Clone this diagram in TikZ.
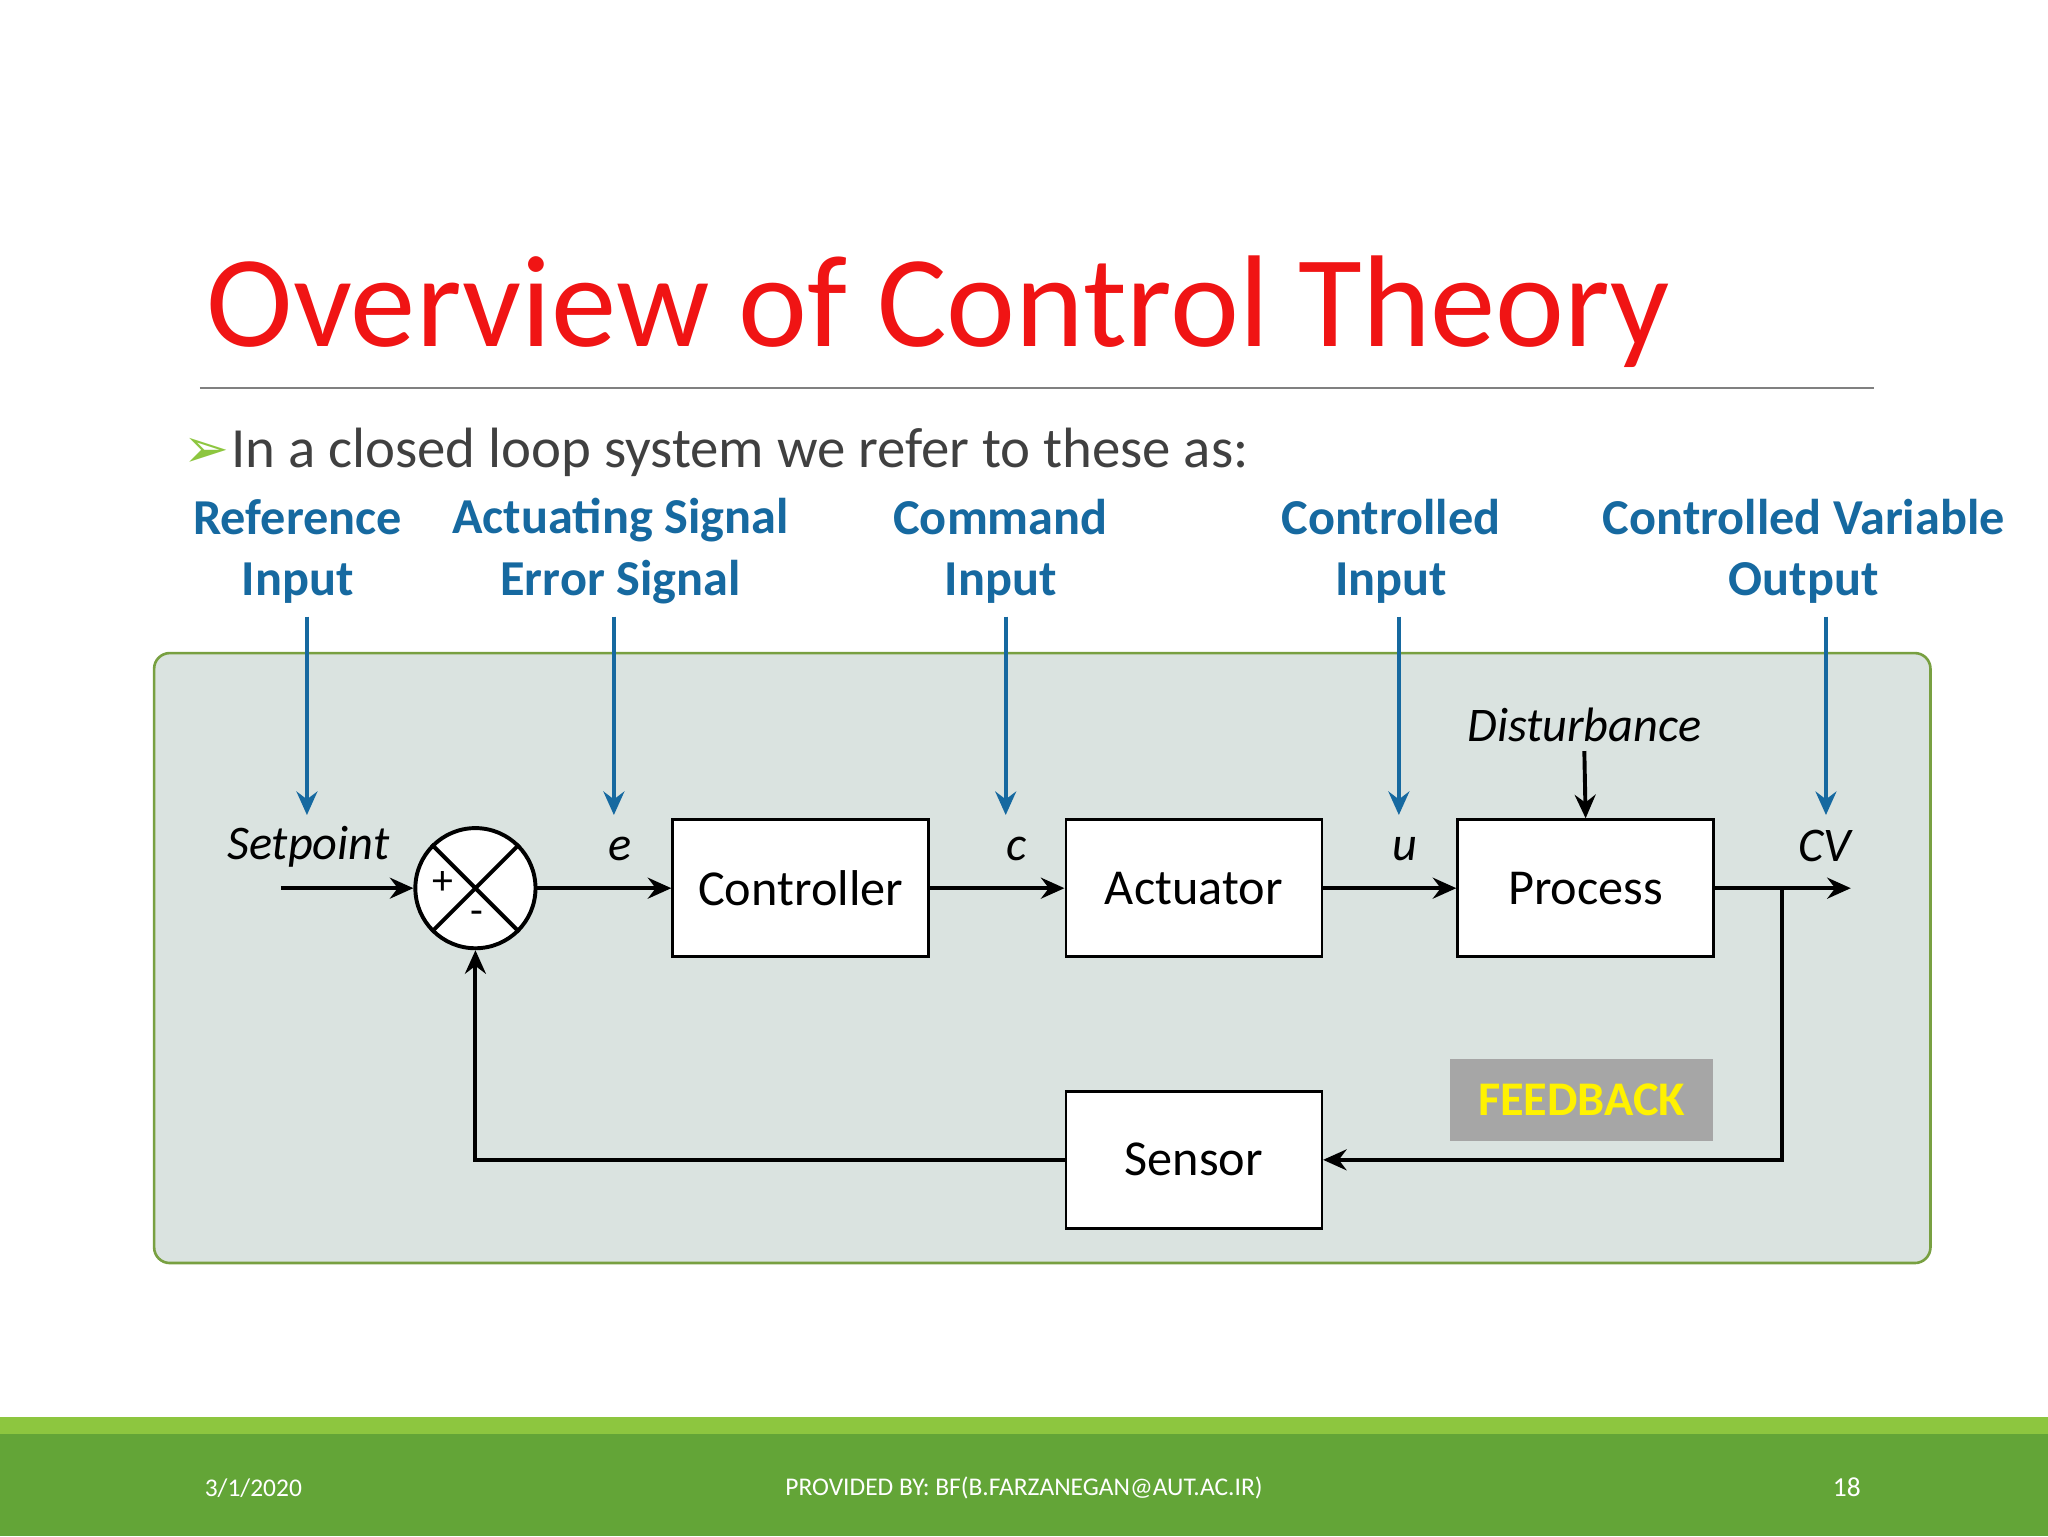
\documentclass[tikz,border=0pt]{standalone}
\usepackage{fontspec}
\setmainfont{Carlito}
\newfontfamily\symfont{DejaVu Sans}
\usetikzlibrary{arrows.meta}
\definecolor{ttlred}{RGB}{240,20,20}
\definecolor{lblue}{RGB}{22,105,160}
\definecolor{panel}{RGB}{218,227,224}
\definecolor{pborder}{RGB}{120,160,65}
\definecolor{gdark}{RGB}{99,165,55}
\definecolor{glight}{RGB}{141,198,63}
\definecolor{fbgray}{RGB}{166,166,166}
\tikzset{
 blk/.style={draw=black,line width=2pt,fill=white,minimum width=196pt,minimum height=105pt,inner sep=0pt,font=\fontsize{38.5}{40}\selectfont},
 lbl/.style={text=lblue,font=\bfseries\fontsize{38.5}{47}\selectfont,align=center},
 sig/.style={font=\itshape\fontsize{37}{40}\selectfont},
 flow/.style={line width=3pt,-{Stealth[length=18pt,width=16pt,inset=6pt]}},
 barr/.style={draw=lblue,line width=3pt,-{Stealth[length=18pt,width=16pt,inset=6pt]}},
}
\begin{document}
\begin{tikzpicture}[x=1pt,y=-1pt]
\useasboundingbox (0,0) rectangle (1568,1176);
\fill[white] (0,0) rectangle (1568,1176);
\fill[glight] (0,1085) rectangle (1568,1098);
\fill[gdark] (0,1098) rectangle (1568,1176);
\node[anchor=base west,text=ttlred,font=\fontsize{100}{110}\selectfont,inner sep=0pt] (title) at (158,265) {Overview of Control Theory};
\draw[gray,line width=1pt] (153,297) -- (1435,297);
\node[anchor=base west,inner sep=0pt,text=glight,font=\symfont\fontsize{42}{44}\selectfont] (bul) at (140,358) {➢};
\node[anchor=base west,inner sep=0pt,text=black!75,font=\fontsize{43.5}{48}\selectfont] (intro) at (177,358) {In a closed loop system we refer to these as:};
\draw[pborder,fill=panel,line width=2pt,rounded corners=12pt] (118,500) rectangle (1478,967);
\node[lbl] (l1) at (228,422) {Reference\\Input};
\node[lbl] (l2) at (475,422) {Actuating Signal\\Error Signal};
\node[lbl] (l3) at (766,422) {Command\\Input};
\node[lbl] (l4) at (1065,422) {Controlled\\Input};
\node[lbl] (l5) at (1381,422) {Controlled Variable\\Output};
\coordinate (a1s) at (235,472); \coordinate (a1e) at (235,624);
\coordinate (a2s) at (470,472); \coordinate (a2e) at (470,624);
\coordinate (a3s) at (770,472); \coordinate (a3e) at (770,624);
\coordinate (a4s) at (1071,472); \coordinate (a4e) at (1071,624);
\coordinate (a5s) at (1398,472); \coordinate (a5e) at (1398,624);
\foreach \i in {1,...,5} \draw[barr] (a\i s) -- (a\i e);
\node[circle,draw,line width=3pt,fill=white,minimum size=92pt,inner sep=0pt] (sum) at (364,680) {};
\draw[line width=3pt] (sum.north west) -- (sum.south east) (sum.north east) -- (sum.south west);
\node[font=\fontsize{32}{32}\selectfont] (plus) at (339,676) {+};
\node[font=\fontsize{32}{32}\selectfont] (minus) at (365,703) {-};
\node[blk] (ctrl) at (613,680) {Controller};
\node[blk] (act) at (914,680) {Actuator};
\node[blk] (proc) at (1214,680) {Process};
\node[blk] (sens) at (914,888) {Sensor};
\node[fill=fbgray,minimum width=201pt,minimum height=63pt,inner sep=0pt,text=yellow,font=\bfseries\fontsize{37}{40}\selectfont] (fb) at (1211,842) {FEEDBACK};
\coordinate (sp) at (215,680);
\coordinate (out) at (1417,680);
\coordinate (tap) at (1364,680);
\coordinate (dtop) at (1213,575);
\node[sig] (tsp) at (236,648) {Setpoint};
\node[sig] (te) at (475,650) {e};
\node[sig] (tc) at (778,650) {c};
\node[sig] (tu) at (1076,650) {u};
\node[sig] (tcv) at (1397,648) {CV};
\node[sig] (tdist) at (1213,555) {Disturbance};
\draw[flow] (sp) -- (sum.west);
\draw[flow] (sum.east) -- (ctrl.west);
\draw[flow] (ctrl.east) -- (act.west);
\draw[flow] (act.east) -- (proc.west);
\draw[flow] (proc.east) -- (out);
\draw[flow] (dtop) -- (proc.north);
\draw[flow] (tap) |- (sens.east);
\draw[flow] (sens.west) -| (sum.south);
\node[text=white,font=\fontsize{19.5}{20}\selectfont] (f1) at (194,1139) {3/1/2020};
\node[text=white,font=\fontsize{19.5}{20}\selectfont] (f2) at (784,1139) {PROVIDED BY: BF(B.FARZANEGAN@AUT.AC.IR)};
\node[text=white,font=\fontsize{21}{21}\selectfont] (f3) at (1414,1139) {18};
\end{tikzpicture}
\end{document}
